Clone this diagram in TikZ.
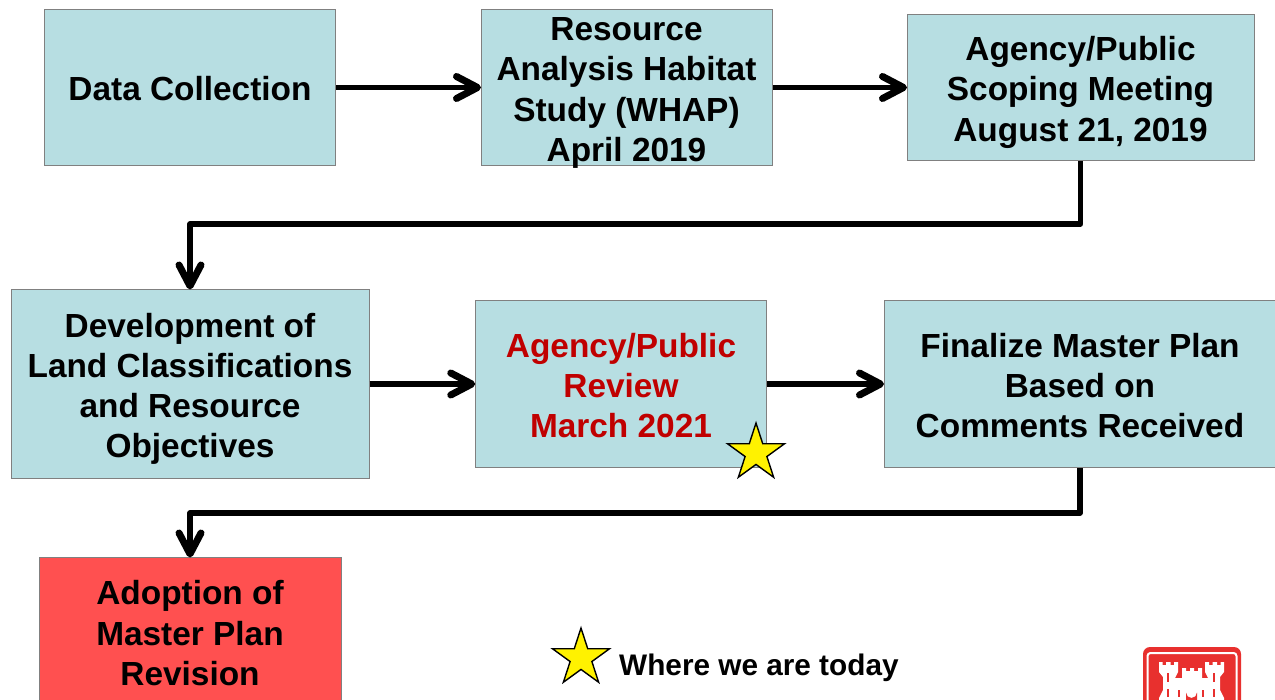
\documentclass[tikz,border=0pt]{standalone}
\usepackage{fontspec}
\setmainfont{Liberation Sans}
\usetikzlibrary{arrows.meta,shapes.geometric}
\definecolor{boxblue}{HTML}{B7DEE2}
\definecolor{boxred}{HTML}{FF5050}
\definecolor{textred}{HTML}{C00000}
\definecolor{logored}{HTML}{E8302E}
\newcommand{\linefix}{\rule[-7pt]{0pt}{41pt}}
\tikzset{stagebox/.style={draw=gray,line width=1pt,fill=boxblue,align=center,inner sep=0pt,
    font=\fontsize{33.4}{40.3}\selectfont\bfseries,
    execute at end node=\linefix}}
\tikzset{flow/.style={line width=5.5pt,line join=round,shorten >=-0.5pt,-{Straight Barb[length=21pt,width=22pt,line width=7pt,round]}}}
\tikzset{today/.style={draw=black,line width=1.4pt,fill=yellow,star,star points=5,star point ratio=2.62,
    minimum size=60pt,inner sep=0pt}}

\begin{document}
\begin{tikzpicture}[x=1pt,y=-1pt]
            \useasboundingbox (0,0) rectangle (1275,700);
            \clip (0,0) rectangle (1275,700);
            % draw the boxes
            \node[stagebox,minimum width=291.5pt,minimum height=156pt] (data) at (190,87.5) {\linefix Data Collection};
            \node[stagebox,inner ysep=-5pt,minimum width=291pt,minimum height=156pt] (habitat) at (626.5,87.5) {\linefix Resource\\Analysis Habitat\\Study (WHAP)\\April 2019};
            \node[stagebox,minimum width=347pt,minimum height=146pt] (scoping) at (1080.5,87.5) {\linefix Agency/Public\\Scoping Meeting\\August 21, 2019};
            \node[stagebox,minimum width=358pt,minimum height=189pt] (classes) at (190,384) {\linefix Development of\\Land Classifications\\and Resource\\Objectives};
            \node[stagebox,minimum width=291.5pt,minimum height=167pt,text=textred] (review) at (621,384) {\linefix Agency/Public\\Review\\March 2021};
            \node[stagebox,minimum width=392pt,minimum height=167pt] (finalize) at (1080,384) {\linefix Finalize Master Plan\\Based on\\Comments Received};
            \node[stagebox,fill=boxred,minimum width=302pt,minimum height=148pt] (adoption) at (190,631.5) {\linefix Adoption of\\Master Plan\\Revision};
            % draw the bends
            \coordinate (bendtop) at (635,224);
            \coordinate (bendlow) at (635,513);
            % draw the arrows
            \draw[flow] (data) -- (habitat);
            \draw[flow] (habitat) -- (scoping);
            \draw[flow] (scoping.south) |- (bendtop) -| (classes.north);
            \draw[flow] (classes) -- (review);
            \draw[flow] (review) -- (finalize);
            \draw[flow] (finalize.south) |- (bendlow) -| (adoption.north);
            % draw the stars
            \node[today] (starbox) at (756,453) {};
            \node[today] (starkey) at (581,658) {};
            \node[anchor=west,inner sep=0pt,font=\fontsize{29.75}{34}\selectfont\bfseries] (keytext) at (619,668) {Where we are today};
            % draw the logo
            \fill[logored,rounded corners=7pt] (1143,647) rectangle (1241,710);
            \draw[white,line width=2pt,rounded corners=3pt] (1147.5,653) rectangle (1236.5,710);
            \fill[white] (1159,662) -- (1162.5,662) -- (1162.5,665) -- (1166,665) -- (1166,662) -- (1170.5,662) -- (1170.5,665) -- (1174,665) -- (1174,662) -- (1178,662)
                -- (1178,672) -- (1175,678) -- (1182,678) -- (1182,668) -- (1186,668) -- (1186,671) -- (1190,671) -- (1190,668) -- (1194,668) -- (1194,671) -- (1198,671) -- (1198,668) -- (1202,668)
                -- (1202,678) -- (1208,678) -- (1205,672) -- (1205,662) -- (1209,662) -- (1209,665) -- (1212.5,665) -- (1212.5,662) -- (1217,662) -- (1217,665) -- (1220.5,665) -- (1220.5,662) -- (1224,662)
                -- (1224,672) -- (1220,677) -- (1220,690) -- (1224,698) -- (1224,700) -- (1159,700) -- (1159,698) -- (1163,690) -- (1163,677) -- (1159,672) -- cycle;
            \fill[logored] (1186,700) -- (1186,692.5) arc (180:0:5.5) -- (1197,700) -- cycle;
            \foreach \wx in {1168,1214} {
                \fill[logored] (\wx-1.2,673) rectangle (\wx+1.2,682);
                \fill[logored] (\wx-1.2,689) rectangle (\wx+1.2,697);
            }
            \foreach \wx in {1179,1203} {
                \fill[logored] (\wx-1.2,690) rectangle (\wx+1.2,697);
            }
        \end{tikzpicture}
\end{document}
